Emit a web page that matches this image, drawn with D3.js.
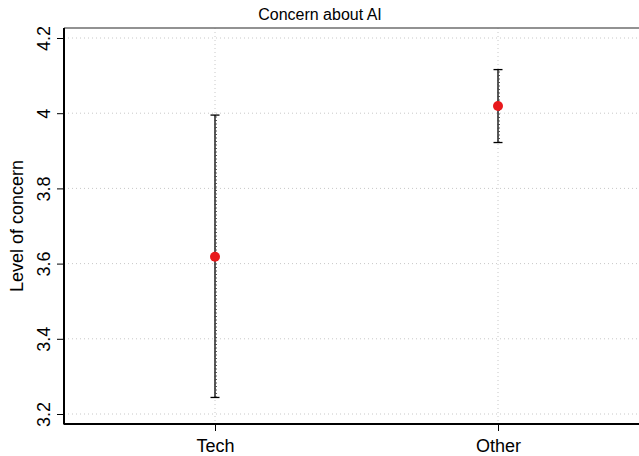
<!DOCTYPE html>
<html>
<head>
<meta charset="utf-8">
<script src="https://cdn.jsdelivr.net/npm/d3@7"></script>
<style>
  body { margin: 0; background: #fff; }
  text { font-family: "Liberation Sans", Arial, Helvetica, sans-serif; fill: #000; }
</style>
</head>
<body>
<div id="chart"></div>
<script>
var groups = ["Tech", "Other"];
var means = [3.618, 4.019];
var lower = [3.244, 3.922];
var upper = [3.995, 4.116];
var yTicks = [3.2, 3.4, 3.6, 3.8, 4, 4.2];

var width = 639, height = 456;
var margin = { top: 28, right: 0, bottom: 32, left: 64 };

var svg = d3.select("#chart")
    .append("svg")
    .attr("width", width)
    .attr("height", height);

var y = d3.scaleLinear()
    .domain([3.2, 4.2])
    .range([414, 38]);

var x = d3.scaleLinear()
    .domain([0, 1])
    .range([215, 498]);

var bottom = height - margin.bottom;

// grid
svg.append("g").selectAll("line")
    .data(yTicks)
    .enter().append("line")
    .attr("x1", margin.left).attr("x2", width)
    .attr("y1", function (d) { return y(d); })
    .attr("y2", function (d) { return y(d); })
    .attr("stroke", "#c8c8c8")
    .attr("stroke-dasharray", "1,3");

svg.append("g").selectAll("line")
    .data(groups)
    .enter().append("line")
    .attr("x1", function (d, i) { return x(i); })
    .attr("x2", function (d, i) { return x(i); })
    .attr("y1", margin.top).attr("y2", bottom)
    .attr("stroke", "#c8c8c8")
    .attr("stroke-dasharray", "1,3");

// frame
svg.append("line")
    .attr("x1", margin.left).attr("x2", width)
    .attr("y1", margin.top).attr("y2", margin.top)
    .attr("stroke", "#6e6e6e").attr("stroke-width", 1.5);

var yAxis = svg.append("g")
    .attr("transform", "translate(" + margin.left + ",0)")
    .call(d3.axisLeft(y).tickValues(yTicks).tickSize(7).tickPadding(10)
        .tickFormat(function (d) { return d3.format("~g")(d); }));
yAxis.select(".domain").remove();
yAxis.selectAll(".tick line").attr("stroke", "#000");
yAxis.selectAll(".tick text")
    .attr("font-size", 18)
    .attr("text-anchor", "middle")
    .attr("x", null).attr("dy", null)
    .attr("transform", "translate(-14,0) rotate(-90)");

svg.append("line")
    .attr("x1", margin.left).attr("x2", margin.left)
    .attr("y1", margin.top).attr("y2", bottom + 0.5)
    .attr("stroke", "#000").attr("stroke-width", 2);

var xAxis = svg.append("g")
    .attr("transform", "translate(0," + bottom + ")")
    .call(d3.axisBottom(x).tickValues([0, 1]).tickSize(7).tickPadding(8)
        .tickFormat(function (d) { return groups[d]; }));
xAxis.select(".domain").remove();
xAxis.selectAll(".tick line").attr("stroke", "#000");
xAxis.selectAll(".tick text").attr("font-size", 18);

svg.append("line")
    .attr("x1", margin.left).attr("x2", width)
    .attr("y1", bottom).attr("y2", bottom)
    .attr("stroke", "#000").attr("stroke-width", 2);

// error bars
var bars = svg.append("g").selectAll("g")
    .data(groups)
    .enter().append("g");

bars.append("line")
    .attr("x1", function (d, i) { return x(i); })
    .attr("x2", function (d, i) { return x(i); })
    .attr("y1", function (d, i) { return y(lower[i]); })
    .attr("y2", function (d, i) { return y(upper[i]); })
    .attr("stroke", "#000").attr("stroke-width", 1.3);

bars.append("line")
    .attr("x1", function (d, i) { return x(i) + 1.2; })
    .attr("x2", function (d, i) { return x(i) + 1.2; })
    .attr("y1", function (d, i) { return y(lower[i]); })
    .attr("y2", function (d, i) { return y(upper[i]); })
    .attr("stroke", "#333").attr("stroke-width", 1.2)
    .attr("stroke-dasharray", "1,2.5");

bars.append("line")
    .attr("x1", function (d, i) { return x(i) - 4.5; })
    .attr("x2", function (d, i) { return x(i) + 4.5; })
    .attr("y1", function (d, i) { return y(upper[i]); })
    .attr("y2", function (d, i) { return y(upper[i]); })
    .attr("stroke", "#000").attr("stroke-width", 1.3);

bars.append("line")
    .attr("x1", function (d, i) { return x(i) - 4.5; })
    .attr("x2", function (d, i) { return x(i) + 4.5; })
    .attr("y1", function (d, i) { return y(lower[i]); })
    .attr("y2", function (d, i) { return y(lower[i]); })
    .attr("stroke", "#000").attr("stroke-width", 1.3);

bars.append("circle")
    .attr("cx", function (d, i) { return x(i); })
    .attr("cy", function (d, i) { return y(means[i]); })
    .attr("r", 5)
    .attr("fill", "#e8191c");

// titles
svg.append("text")
    .attr("x", 320).attr("y", 20)
    .attr("text-anchor", "middle")
    .attr("font-size", 16)
    .text("Concern about AI");

svg.append("text")
    .attr("transform", "translate(23,226) rotate(-90)")
    .attr("text-anchor", "middle")
    .attr("font-size", 18)
    .text("Level of concern");
</script>
</body>
</html>
